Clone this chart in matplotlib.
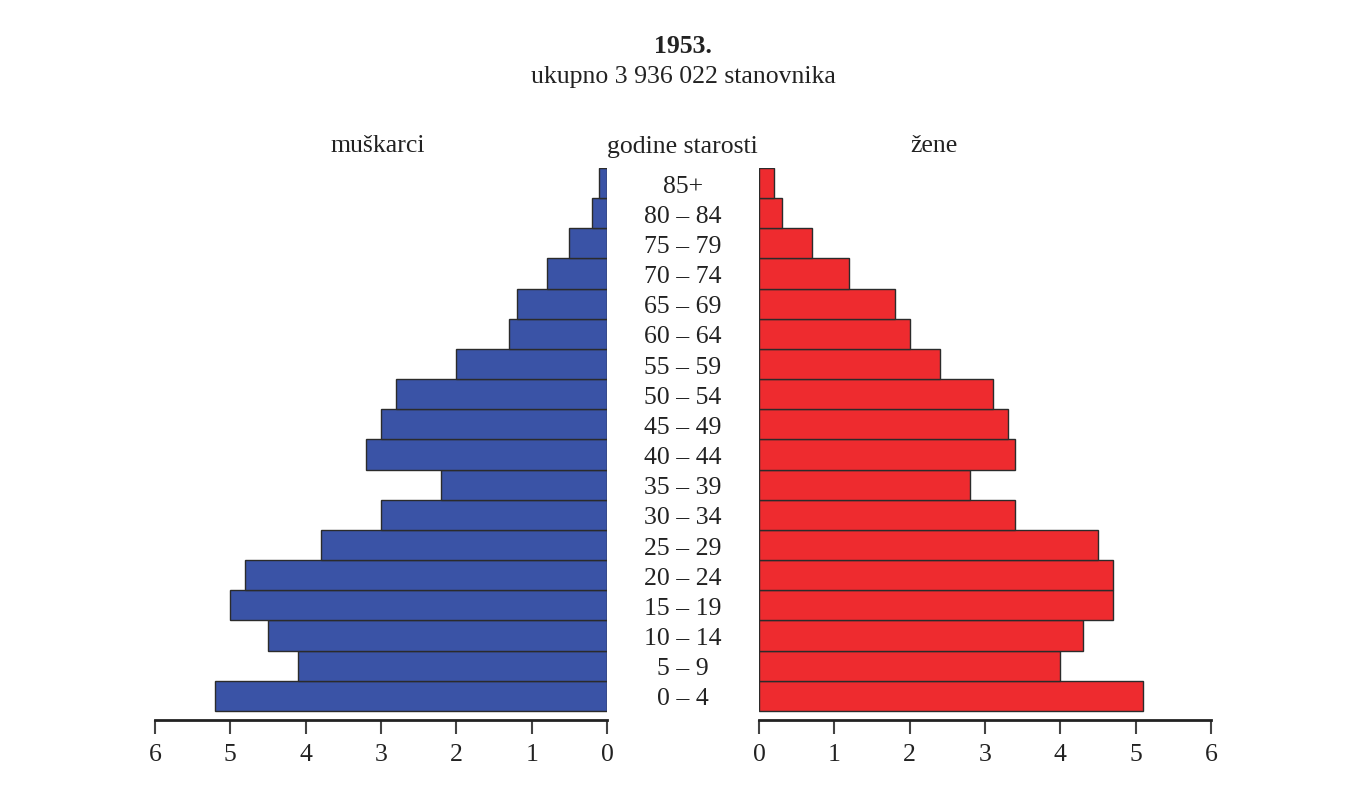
import matplotlib
matplotlib.use("Agg")
import matplotlib.pyplot as plt
import numpy as np

age_groups = ["0 – 4", "5 – 9", "10 – 14", "15 – 19", "20 – 24", "25 – 29", "30 – 34",
              "35 – 39", "40 – 44", "45 – 49", "50 – 54", "55 – 59", "60 – 64",
              "65 – 69", "70 – 74", "75 – 79", "80 – 84", "85+"]
men = [5.2, 4.1, 4.5, 5.0, 4.8, 3.8, 3.0, 2.2, 3.2, 3.0, 2.8, 2.0, 1.3, 1.2, 0.8, 0.5, 0.2, 0.1]
women = [5.1, 4.0, 4.3, 4.7, 4.7, 4.5, 3.4, 2.8, 3.4, 3.3, 3.1, 2.4, 2.0, 1.8, 1.2, 0.7, 0.3, 0.2]
ticks = [0, 1, 2, 3, 4, 5, 6]

plt.rcParams['font.family'] = ['Liberation Serif', 'DejaVu Serif']

W, H = 1364, 794
fig = plt.figure(figsize=(W / 100, H / 100), dpi=100)

def fx(px):
    return px / W

def fy(py):
    return 1 - py / H

ax_bottom = fy(720)
ax_h = fy(168) - fy(720)
axL = fig.add_axes([fx(155), ax_bottom, fx(607) - fx(155), ax_h])
axR = fig.add_axes([fx(759), ax_bottom, fx(1211) - fx(759), ax_h])

y = np.arange(len(age_groups))
blue = "#3a53a6"
red = "#ee2b2f"
edge = "#2b2b2b"
txt = "#222222"
FS = 18.5

axL.barh(y, men, height=1.0, color=blue, edgecolor=edge, linewidth=1.0)
axR.barh(y, women, height=1.0, color=red, edgecolor=edge, linewidth=1.0)

axL.set_xlim(6, 0)
axR.set_xlim(0, 6)
for ax in (axL, axR):
    ax.set_ylim(-0.8, 17.5)
    for s in ("top", "left", "right"):
        ax.spines[s].set_visible(False)
    ax.spines["bottom"].set_linewidth(2.0)
    ax.spines["bottom"].set_color("#222222")
    ax.set_yticks([])
    ax.set_xticks(ticks)
    ax.set_xticklabels([str(t) for t in ticks])
    ax.tick_params(axis="x", direction="out", length=10, width=1.5, color="#444444",
                   labelsize=FS, pad=7, labelcolor=txt)

# age labels in the middle
for i, lab in enumerate(age_groups):
    disp = axL.transData.transform((0, i))
    fig_y = fig.transFigure.inverted().transform(disp)[1]
    fig.text(fx(683), fig_y - 1 / H, lab, ha="center", va="center_baseline", fontsize=FS, color=txt)

fig.text(fx(378), fy(144), "muškarci", ha="center", va="center_baseline", fontsize=FS, color=txt)
fig.text(fx(682), fy(144), "godine starosti", ha="center", va="center_baseline", fontsize=FS, color=txt)
fig.text(fx(934), fy(144), "žene", ha="center", va="center_baseline", fontsize=FS, color=txt)

fig.text(fx(683), fy(44), "1953.", ha="center", va="center_baseline", fontsize=FS, fontweight="bold", color=txt)
fig.text(fx(683), fy(75), "ukupno 3 936 022 stanovnika", ha="center", va="center_baseline", fontsize=FS, color=txt)

fig.savefig("out.png", dpi=100)
